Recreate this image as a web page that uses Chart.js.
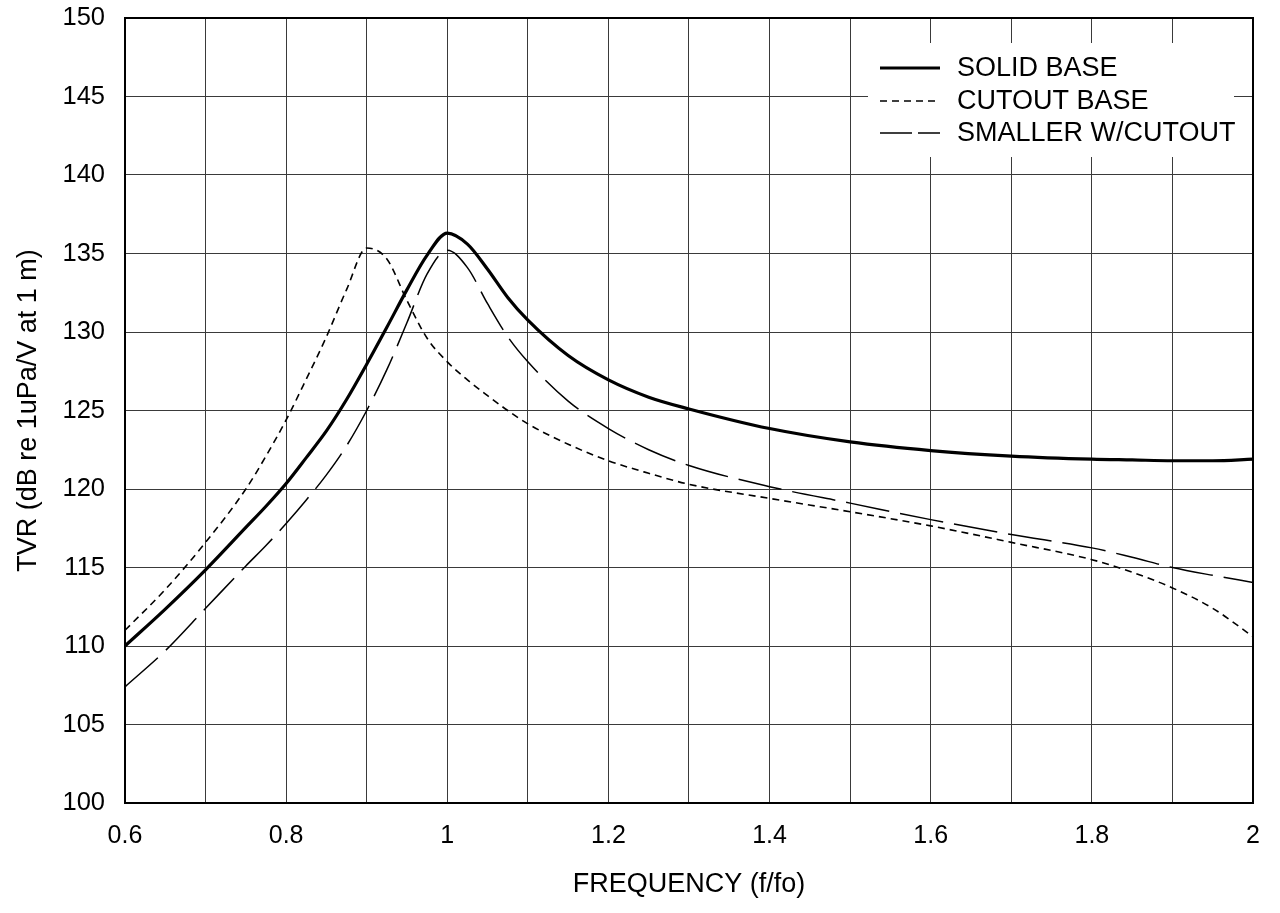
<!DOCTYPE html>
<html>
<head>
<meta charset="utf-8">
<title>TVR</title>
<script src="https://cdn.jsdelivr.net/npm/chart.js@4.4.1/dist/chart.umd.min.js"></script>
<style>
	html, body { margin: 0; padding: 0; background: #fff; }
	#chart { display: block; }
</style>
</head>
<body>
<canvas id="chart" width="1280" height="913"></canvas>
<script>
// data
var freq = [0.6, 0.65, 0.7, 0.75, 0.775, 0.8, 0.825, 0.85, 0.875, 0.9, 0.925, 0.95, 0.975, 1.0, 1.025, 1.05, 1.075, 1.1, 1.15, 1.2, 1.25, 1.3, 1.4, 1.5, 1.6, 1.7, 1.8, 1.85, 1.9, 1.95, 2.0];
var solidBase = [110.0, 112.35, 114.85, 117.55, 118.9, 120.35, 122.0, 123.7, 125.7, 127.95, 130.3, 132.7, 134.9, 136.3, 135.6, 134.0, 132.2, 130.75, 128.5, 126.95, 125.85, 125.1, 123.85, 123.0, 122.45, 122.1, 121.9, 121.85, 121.8, 121.8, 121.9];
var cutoutBase = [111.0, 113.6, 116.6, 120.0, 122.1, 124.4, 127.0, 129.7, 132.7, 135.35, 134.65, 132.0, 129.6, 128.1, 126.95, 125.95, 125.0, 124.15, 122.85, 121.8, 121.0, 120.3, 119.4, 118.55, 117.65, 116.6, 115.5, 114.7, 113.7, 112.4, 110.6];
var smallerCutout = [107.4, 109.7, 112.4, 115.1, 116.4, 117.8, 119.3, 120.9, 122.75, 125.0, 127.6, 130.6, 133.7, 135.2, 134.1, 131.8, 129.7, 128.1, 125.6, 123.85, 122.5, 121.5, 120.15, 119.1, 118.05, 117.1, 116.25, 115.65, 115.0, 114.5, 114.05];
var seriesNames = ["SOLID BASE", "CUTOUT BASE", "SMALLER W/CUTOUT"];

var FONT = "'Liberation Sans', Arial, sans-serif";

function toPoints(arr) {
	var pts = [];
	for(var i=0; i<freq.length; i++) {
		pts.push({x: freq[i], y: arr[i]});
	}
	return pts;
}

// no extra room for end labels, layout padding decides the plot box
function noLabelPad(scale) {
	scale.paddingTop = 0;
	scale.paddingBottom = 0;
	scale.paddingLeft = 0;
	scale.paddingRight = 0;
}

// legend box inside plot (drawn by hand so it can sit in the corner)
var legendBox = {left: 868, top: 43, right: 1234, bottom: 157};
var insideLegend = {
	id: "insideLegend",
	beforeDatasetsDraw: function(chart) {
		var c = chart.ctx;
		c.save();
		c.fillStyle = "#fff";
		c.fillRect(legendBox.left, legendBox.top, legendBox.right - legendBox.left, legendBox.bottom - legendBox.top);
		c.restore();
	},
	afterDatasetsDraw: function(chart) {
		var c = chart.ctx;
		var ds = chart.data.datasets;
		var rowY = [68, 101, 133];
		c.save();
		for(var i=0; i<ds.length; i++) {
			c.beginPath();
			c.strokeStyle = "#000";
			c.lineWidth = ds[i].borderWidth;
			c.setLineDash(i == 2 ? [32, 6] : (ds[i].borderDash || []));
			c.moveTo(880, rowY[i]);
			c.lineTo(940, rowY[i]);
			c.stroke();
			c.setLineDash([]);
			c.fillStyle = "#000";
			c.font = "27px " + FONT;
			c.textBaseline = "middle";
			c.fillText(ds[i].label, 957, rowY[i] + 1);
		}
		c.restore();
	},
	afterDraw: function(chart) {
		// plot frame
		var a = chart.chartArea;
		var c = chart.ctx;
		c.save();
		c.strokeStyle = "#000";
		c.lineWidth = 2;
		c.strokeRect(a.left, a.top, a.right - a.left, a.bottom - a.top);
		c.restore();
	}
};

var ctx = document.getElementById("chart");
var chart = new Chart(ctx, {
	type: "line",
	data: {
		datasets: [{
			label: seriesNames[0],
			data: toPoints(solidBase),
			borderColor: "#000",
			borderWidth: 3.2,
			pointRadius: 0,
			cubicInterpolationMode: "monotone"
		}, {
			label: seriesNames[1],
			data: toPoints(cutoutBase),
			borderColor: "#000",
			borderWidth: 1.6,
			borderDash: [7, 5],
			pointRadius: 0,
			cubicInterpolationMode: "monotone"
		}, {
			label: seriesNames[2],
			data: toPoints(smallerCutout),
			borderColor: "#000",
			borderWidth: 1.5,
			borderDash: [44, 11],
			pointRadius: 0,
			cubicInterpolationMode: "monotone"
		}]
	},
	options: {
		responsive: false,
		animation: false,
		layout: {
			padding: {left: 0, top: 18, right: 27, bottom: 0}
		},
		plugins: {
			legend: { display: false },
			tooltip: { enabled: false }
		},
		scales: {
			x: {
				type: "linear",
				min: 0.6,
				max: 2,
				afterFit: function(scale) { scale.height = 110; noLabelPad(scale); },
				grid: { color: "#3a3a3a", lineWidth: 1, drawTicks: false },
				border: { display: false },
				ticks: {
					stepSize: 0.1,
					autoSkip: false,
					maxRotation: 0,
					padding: 18,
					color: "#000",
					font: { family: FONT, size: 25 },
					callback: function(value) {
						var v = Math.round(value * 10);
						return v % 2 == 0 ? String(v / 10) : "";
					}
				},
				title: {
					display: true,
					text: "FREQUENCY (f/fo)",
					color: "#000",
					font: { family: FONT, size: 27 },
					padding: { top: 0, bottom: 12 }
				}
			},
			y: {
				min: 100,
				max: 150,
				afterFit: function(scale) { scale.width = 125; noLabelPad(scale); },
				grid: { color: "#3a3a3a", lineWidth: 1, drawTicks: false },
				border: { display: false },
				ticks: {
					stepSize: 5,
					padding: 20,
					color: "#000",
					font: { family: FONT, size: 25.5 }
				},
				title: {
					display: true,
					text: "TVR (dB re 1uPa/V at 1 m)",
					color: "#000",
					font: { family: FONT, size: 27 },
					padding: { top: 12, bottom: 0 }
				}
			}
		}
	},
	plugins: [insideLegend]
});
</script>
</body>
</html>
